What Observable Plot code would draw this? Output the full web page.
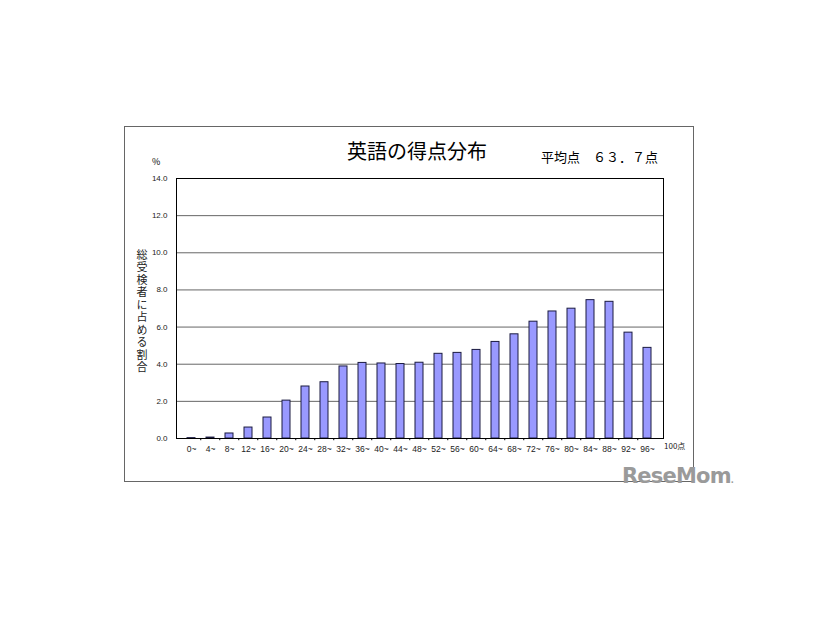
<!DOCTYPE html>
<html>
<head>
<meta charset="utf-8">
<script src="https://cdn.jsdelivr.net/npm/d3@7"></script>
<script src="https://cdn.jsdelivr.net/npm/@observablehq/plot@0.6"></script>
<style>
  html, body { margin: 0; padding: 0; background: #fff; }
  body { width: 826px; height: 620px; position: relative; overflow: hidden;
         font-family: "Noto Sans CJK JP", "Noto Sans", sans-serif; }
  #chart { position: absolute; left: 0; top: 0; }
  .abs { position: absolute; white-space: nowrap; color: #000; }
  #frame { position: absolute; left: 124px; top: 126px; width: 568px; height: 354px;
           border: 1px solid #666; box-sizing: content-box; }
  #ytitle { position: absolute; left: 135px; top: 249px; font-size: 11px; line-height: 14px;
            writing-mode: vertical-rl; text-orientation: upright; letter-spacing: 1.5px;
            color: #222; white-space: nowrap; font-family: "Noto Sans CJK JP", sans-serif; }
</style>
</head>
<body>
<div id="frame"></div>
<div id="chart"></div>
<div class="abs" id="title" style="left:347px; top:138px; font-size:20px; line-height:26px;">英語の得点分布</div>
<div class="abs" style="left:541px; top:148px; font-size:13px; line-height:18px;">平均点　６３．７点</div>
<div class="abs" style="left:152px; top:156px; font-size:9px; line-height:11px;">%</div>
<div id="ytitle"></div>
<div class="abs" style="left:664px; top:441px; font-size:8px; line-height:10px; color:#222;">100点</div>
<div class="abs" style="left:622px; top:463px; font-size:21px; line-height:26px; font-weight:bold; color:#9a9a9a; font-family:'DejaVu Sans', sans-serif; letter-spacing:-0.8px;">ReseMom<span style="font-size:8px">.</span></div>
<script>
const categories = ["0~","4~","8~","12~","16~","20~","24~","28~","32~","36~","40~","44~","48~",
  "52~","56~","60~","64~","68~","72~","76~","80~","84~","88~","92~","96~"];
const values = [0.02,0.05,0.27,0.59,1.13,2.04,2.80,3.03,3.88,4.07,4.04,4.01,4.08,
  4.56,4.61,4.77,5.20,5.61,6.29,6.84,6.99,7.45,7.36,5.70,4.88];
const yTicks = [0,2,4,6,8,10,12,14];
const yTitle = "総受検者に占める割合";

document.getElementById("ytitle").textContent = yTitle;

const data = categories.map((c, i) => ({cat: c, value: values[i]}));
const bandStep = (826 - 176 - 163) / categories.length;

const chart = Plot.plot({
  width: 826,
  height: 620,
  marginLeft: 176,
  marginRight: 163,
  marginTop: 178,
  marginBottom: 182,
  style: {fontFamily: "'Liberation Sans', 'DejaVu Sans', sans-serif", fontSize: "8.5px", color: "#222", background: "transparent"},
  x: {domain: categories, padding: 0.56, align: 0.5, label: null},
  y: {domain: [0, 14], ticks: yTicks, label: null},
  marks: [
    Plot.ruleY(yTicks, {stroke: "#666", strokeWidth: 1, strokeOpacity: 1}),
    Plot.barY(data, {x: "cat", y: "value", fill: "#9999ff", stroke: "#1a1a40", strokeWidth: 1}),
    Plot.ruleX(categories.slice(1), {x: d => d, dx: -bandStep / 2, y1: 0, y2: -0.12, stroke: "#000", clip: false}),
    Plot.axisY({ticks: yTicks, tickSize: 0, tickPadding: 9, tickFormat: d => d.toFixed(1), fontSize: 8, fill: "#222", label: null}),
    Plot.axisX({tickSize: 0, tickPadding: 7, fontSize: 8.5, fill: "#222", label: null}),
    Plot.frame({stroke: "#000", strokeWidth: 1})
  ]
});
document.getElementById("chart").appendChild(chart);
</script>
</body>
</html>
